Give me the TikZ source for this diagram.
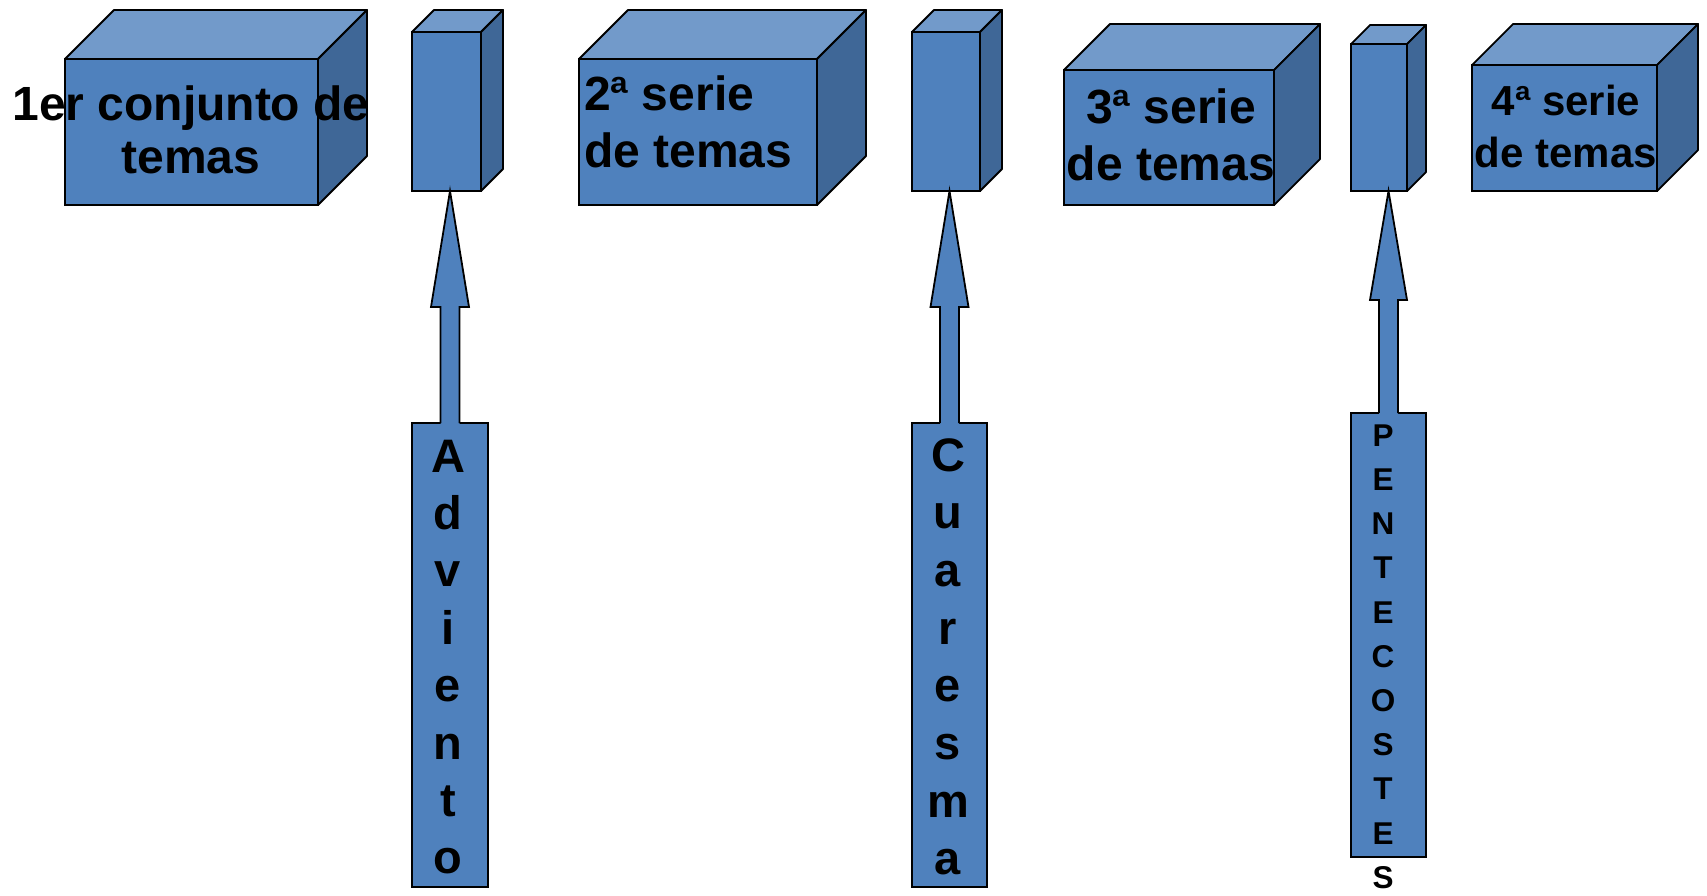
\documentclass[tikz,border=0pt]{standalone}
\usepackage{fontspec}
\setmainfont{Liberation Sans}
\usepackage{tikz}
\usetikzlibrary{calc}

\definecolor{frente}{HTML}{4F81BD}
\definecolor{arriba}{HTML}{729ACA}
\definecolor{lado}{HTML}{3F6797}

\tikzset{
  frontface/.style={draw=black, fill=frente, line width=1.8pt, inner sep=0pt, outer sep=0pt, anchor=north west},
  topface/.style={draw=black, fill=arriba, line width=1.8pt, line join=round},
  sideface/.style={draw=black, fill=lado, line width=1.8pt, line join=round},
  rotulo/.style={inner sep=0pt, align=center}
}

% name, x, y (front top left), width, height, depth
\newcommand{\cubo}[6]{%
  \node[frontface, minimum width=#4pt, minimum height=#5pt] (#1) at (#2,#3) {};
  \draw[topface] (#1.north west) -- ++(#6pt,#6pt) -- ++(#4pt,0) -- (#1.north east) -- cycle;
  \draw[sideface] (#1.north east) -- ++(#6pt,#6pt) -- ++(0,-#5pt) -- (#1.south east) -- cycle;
}

% from, to, head length, shaft half width, head half width
\newcommand{\flecha}[5]{%
  \coordinate (base) at (#1.north);
  \coordinate (tip) at (#1.north |- #2.south);
  \fill[frente] ($(base)+(-#4pt,-2pt)$) -- ($(tip)+(-#4pt,-#3pt)$) -- ($(tip)+(-#5pt,-#3pt)$) -- (tip)
    -- ($(tip)+(#5pt,-#3pt)$) -- ($(tip)+(#4pt,-#3pt)$) -- ($(base)+(#4pt,-2pt)$) -- cycle;
  \draw[line width=1.8pt, line join=miter] ($(base)+(-#4pt,0)$) -- ($(tip)+(-#4pt,-#3pt)$) -- ($(tip)+(-#5pt,-#3pt)$) -- (tip)
    -- ($(tip)+(#5pt,-#3pt)$) -- ($(tip)+(#4pt,-#3pt)$) -- ($(base)+(#4pt,0)$);
}

\begin{document}
\begin{tikzpicture}[x=1pt, y=-1pt]
\useasboundingbox (0,0) rectangle (1707,895);

% cubes and pillars
\cubo{box_a}{65}{59}{253}{146}{49}
\cubo{pillar_a}{412}{32}{69}{159}{22}
\cubo{box_b}{579}{59}{238}{146}{49}
\cubo{pillar_b}{912}{32}{68}{159}{22}
\cubo{box_c}{1064}{70}{210}{135}{46}
\cubo{pillar_c}{1351}{44}{56}{147}{19}
\cubo{box_d}{1472}{65}{185}{126}{41}

% texts of the cubes
\node[rotulo, anchor=north, font=\bfseries\fontsize{48}{53}\selectfont] (text_a) at (191,85.6) {1er conjunto de\\temas};
\node[rotulo, anchor=north west, align=left, font=\bfseries\fontsize{48}{57}\selectfont] (text_b) at (584,75.6) {2ª serie\\de temas};
\node[rotulo, anchor=north, font=\bfseries\fontsize{48}{57}\selectfont] (text_c) at (1171,88.6) {3ª serie\\de temas};
\node[rotulo, anchor=north, font=\bfseries\fontsize{42}{52}\selectfont] (text_d) at (1566,85) {4ª serie\\de temas};

% seasons
\node[frontface, anchor=center, minimum width=76pt, minimum height=464pt] (season_a) at (450,655) {};
\node[frontface, anchor=center, minimum width=75pt, minimum height=464pt] (season_b) at (949.5,655) {};
\node[frontface, anchor=center, minimum width=75pt, minimum height=444pt] (season_c) at (1388.5,635) {};

\flecha{season_a}{pillar_a}{116}{9.5}{19}
\flecha{season_b}{pillar_b}{116}{9.5}{19}
\flecha{season_c}{pillar_c}{109}{9.5}{18.5}

\node[rotulo, anchor=north, font=\bfseries\fontsize{47}{57.4}\selectfont] (name_a) at (448,439.5) {A\\d\\v\\i\\e\\n\\t\\o};
\node[rotulo, anchor=north, font=\bfseries\fontsize{47}{57.7}\selectfont] (name_b) at (948,438) {C\\u\\a\\r\\e\\s\\m\\a};
\node[rotulo, anchor=north, font=\bfseries\fontsize{31.5}{44.2}\selectfont] (name_c) at (1383,424.5) {P\\E\\N\\T\\E\\C\\O\\S\\T\\E\\S};
\end{tikzpicture}
\end{document}
